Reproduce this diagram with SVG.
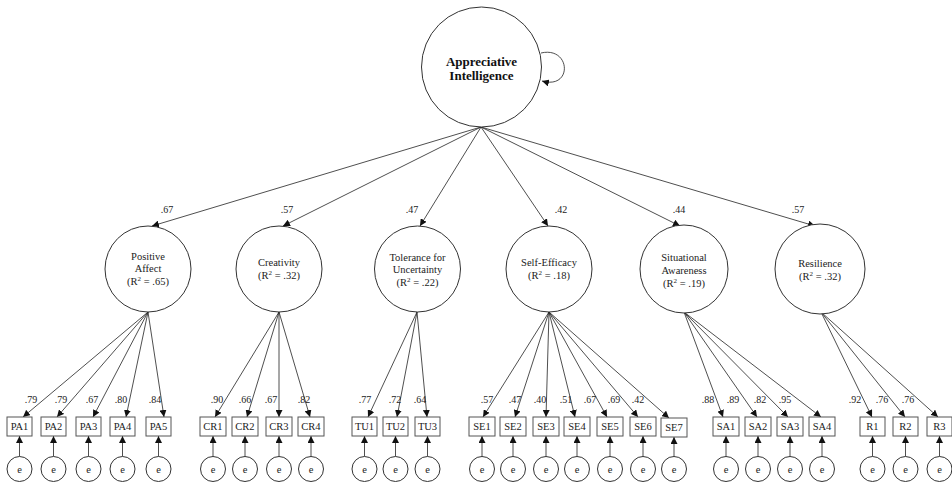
<svg xmlns="http://www.w3.org/2000/svg" width="952" height="483" viewBox="0 0 952 483">
<defs>
<marker id="ah" viewBox="0 0 10 10" refX="10" refY="5" markerWidth="7" markerHeight="7" markerUnits="userSpaceOnUse" orient="auto"><path d="M0,0 L10,5 L0,10 Z" fill="#111"/></marker>
</defs>
<style>
.c{fill:#fff;stroke:#333;stroke-width:1}
.b{fill:#fff;stroke:#555;stroke-width:1}
.l{stroke:#222;stroke-width:0.8;fill:none;marker-end:url(#ah)}
.t{font-family:"Liberation Serif","DejaVu Serif",serif;font-size:10.5px;fill:#222;text-anchor:middle}
.tb{font-family:"Liberation Serif","DejaVu Serif",serif;font-size:13px;font-weight:bold;fill:#111;text-anchor:middle}
.n{font-family:"Liberation Serif","DejaVu Serif",serif;font-size:10px;fill:#222;text-anchor:middle}
</style>
<rect width="952" height="483" fill="#fff"/>
<g id="connectors">
<path class="l" d="M541,53 C571,46 573,90 542,81"/>
<line class="l" x1="481" y1="127" x2="152" y2="226"/>
<line class="l" x1="481" y1="127" x2="283" y2="226"/>
<line class="l" x1="481" y1="127" x2="420" y2="226"/>
<line class="l" x1="481" y1="127" x2="548" y2="226"/>
<line class="l" x1="481" y1="127" x2="680" y2="226"/>
<line class="l" x1="481" y1="127" x2="815" y2="226"/>
<line class="l" x1="148" y1="312" x2="23" y2="417"/>
<line class="l" x1="148" y1="312" x2="57" y2="417"/>
<line class="l" x1="148" y1="312" x2="93" y2="417"/>
<line class="l" x1="148" y1="312" x2="126" y2="417"/>
<line class="l" x1="148" y1="312" x2="164" y2="417"/>
<line class="l" x1="279" y1="312" x2="215" y2="417"/>
<line class="l" x1="279" y1="312" x2="247" y2="417"/>
<line class="l" x1="279" y1="312" x2="279" y2="417"/>
<line class="l" x1="279" y1="312" x2="310" y2="417"/>
<line class="l" x1="417" y1="312" x2="368" y2="417"/>
<line class="l" x1="417" y1="312" x2="397" y2="417"/>
<line class="l" x1="417" y1="312" x2="427" y2="417"/>
<line class="l" x1="549" y1="312" x2="483" y2="417"/>
<line class="l" x1="549" y1="312" x2="515" y2="417"/>
<line class="l" x1="549" y1="312" x2="546" y2="417"/>
<line class="l" x1="549" y1="312" x2="575" y2="417"/>
<line class="l" x1="549" y1="312" x2="607" y2="417"/>
<line class="l" x1="549" y1="312" x2="638" y2="417"/>
<line class="l" x1="549" y1="312" x2="669" y2="418"/>
<line class="l" x1="684" y1="312" x2="723" y2="417"/>
<line class="l" x1="684" y1="312" x2="757" y2="417"/>
<line class="l" x1="684" y1="312" x2="788" y2="417"/>
<line class="l" x1="684" y1="312" x2="821" y2="417"/>
<line class="l" x1="821" y1="312" x2="872" y2="417"/>
<line class="l" x1="821" y1="312" x2="905" y2="417"/>
<line class="l" x1="821" y1="312" x2="938" y2="417"/>
<line class="l" x1="19.5" y1="456.5" x2="19.5" y2="436"/>
<line class="l" x1="53.5" y1="456.5" x2="53.5" y2="436"/>
<line class="l" x1="88.5" y1="456.5" x2="88.5" y2="436"/>
<line class="l" x1="122.5" y1="456.5" x2="122.5" y2="436"/>
<line class="l" x1="158.5" y1="456.5" x2="158.5" y2="436"/>
<line class="l" x1="213" y1="456.5" x2="213" y2="436"/>
<line class="l" x1="245" y1="456.5" x2="245" y2="436"/>
<line class="l" x1="279" y1="456.5" x2="279" y2="436"/>
<line class="l" x1="311" y1="456.5" x2="311" y2="436"/>
<line class="l" x1="364.5" y1="456.5" x2="364.5" y2="436"/>
<line class="l" x1="395.5" y1="456.5" x2="395.5" y2="436"/>
<line class="l" x1="427.5" y1="456.5" x2="427.5" y2="436"/>
<line class="l" x1="482" y1="456.5" x2="482" y2="436"/>
<line class="l" x1="513" y1="456.5" x2="513" y2="436"/>
<line class="l" x1="546" y1="456.5" x2="546" y2="436"/>
<line class="l" x1="577" y1="456.5" x2="577" y2="436"/>
<line class="l" x1="610" y1="456.5" x2="610" y2="436"/>
<line class="l" x1="643" y1="456.5" x2="643" y2="436"/>
<line class="l" x1="674" y1="456.5" x2="674" y2="437"/>
<line class="l" x1="726" y1="456.5" x2="726" y2="436"/>
<line class="l" x1="758" y1="456.5" x2="758" y2="436"/>
<line class="l" x1="790" y1="456.5" x2="790" y2="436"/>
<line class="l" x1="822" y1="456.5" x2="822" y2="436"/>
<line class="l" x1="872.5" y1="456.5" x2="872.5" y2="436"/>
<line class="l" x1="905.5" y1="456.5" x2="905.5" y2="436"/>
<line class="l" x1="939.5" y1="456.5" x2="939.5" y2="436"/>
</g>
<g id="loadings">
<text class="n" x="167" y="213">.67</text>
<text class="n" x="287" y="213">.57</text>
<text class="n" x="412" y="213">.47</text>
<text class="n" x="561" y="213">.42</text>
<text class="n" x="679" y="213">.44</text>
<text class="n" x="798" y="213">.57</text>
<text class="n" x="31" y="403">.79</text>
<text class="n" x="61" y="403">.79</text>
<text class="n" x="92" y="403">.67</text>
<text class="n" x="121" y="403">.80</text>
<text class="n" x="155" y="403">.84</text>
<text class="n" x="217" y="403">.90</text>
<text class="n" x="245" y="403">.66</text>
<text class="n" x="271" y="403">.67</text>
<text class="n" x="304" y="403">.82</text>
<text class="n" x="365" y="403">.77</text>
<text class="n" x="395" y="403">.72</text>
<text class="n" x="420" y="403">.64</text>
<text class="n" x="487" y="403">.57</text>
<text class="n" x="515" y="403">.47</text>
<text class="n" x="540" y="403">.40</text>
<text class="n" x="566" y="403">.51</text>
<text class="n" x="590" y="403">.67</text>
<text class="n" x="614" y="403">.69</text>
<text class="n" x="638" y="403">.42</text>
<text class="n" x="708" y="403">.88</text>
<text class="n" x="733" y="403">.89</text>
<text class="n" x="760" y="403">.82</text>
<text class="n" x="785" y="403">.95</text>
<text class="n" x="855" y="403">.92</text>
<text class="n" x="882" y="403">.76</text>
<text class="n" x="908" y="403">.76</text>
</g>
<g id="AI">
<circle class="c" cx="481.5" cy="67" r="60"/>
<text class="tb" x="481.5" y="66">Appreciative</text>
<text class="tb" x="481.5" y="80">Intelligence</text>
</g>
<g id="PA">
<circle class="c" cx="148" cy="269" r="43"/>
<text class="t" x="148" y="260">Positive</text>
<text class="t" x="148" y="272">Affect</text>
<text class="t" x="148" y="285">(R<tspan font-size="7" dy="-4">2</tspan><tspan dy="4"> = .65)</tspan></text>
</g>
<g id="CR">
<circle class="c" cx="279" cy="269" r="43"/>
<text class="t" x="279" y="266">Creativity</text>
<text class="t" x="279" y="279">(R<tspan font-size="7" dy="-4">2</tspan><tspan dy="4"> = .32)</tspan></text>
</g>
<g id="TU">
<circle class="c" cx="417.5" cy="269" r="43"/>
<text class="t" x="417.5" y="261">Tolerance for</text>
<text class="t" x="417.5" y="273">Uncertainty</text>
<text class="t" x="417.5" y="286">(R<tspan font-size="7" dy="-4">2</tspan><tspan dy="4"> = .22)</tspan></text>
</g>
<g id="SE">
<circle class="c" cx="549" cy="269" r="43"/>
<text class="t" x="549" y="266">Self-Efficacy</text>
<text class="t" x="549" y="279">(R<tspan font-size="7" dy="-4">2</tspan><tspan dy="4"> = .18)</tspan></text>
</g>
<g id="SA">
<circle class="c" cx="684" cy="269" r="44"/>
<text class="t" x="684" y="261">Situational</text>
<text class="t" x="684" y="274">Awareness</text>
<text class="t" x="684" y="287">(R<tspan font-size="7" dy="-4">2</tspan><tspan dy="4"> = .19)</tspan></text>
</g>
<g id="R">
<circle class="c" cx="820" cy="269" r="45"/>
<text class="t" x="820" y="267">Resilience</text>
<text class="t" x="820" y="280">(R<tspan font-size="7" dy="-4">2</tspan><tspan dy="4"> = .32)</tspan></text>
</g>
<g id="indicators">
<g id="PA1"><rect class="b" x="7" y="417" width="25" height="19"/><text class="t" x="19.5" y="430">PA1</text></g>
<g id="PA2"><rect class="b" x="41" y="417" width="25" height="19"/><text class="t" x="53.5" y="430">PA2</text></g>
<g id="PA3"><rect class="b" x="76" y="417" width="25" height="19"/><text class="t" x="88.5" y="430">PA3</text></g>
<g id="PA4"><rect class="b" x="110" y="417" width="25" height="19"/><text class="t" x="122.5" y="430">PA4</text></g>
<g id="PA5"><rect class="b" x="146" y="417" width="25" height="19"/><text class="t" x="158.5" y="430">PA5</text></g>
<g id="CR1"><rect class="b" x="200" y="417" width="26" height="19"/><text class="t" x="213" y="430">CR1</text></g>
<g id="CR2"><rect class="b" x="232" y="417" width="26" height="19"/><text class="t" x="245" y="430">CR2</text></g>
<g id="CR3"><rect class="b" x="266" y="417" width="26" height="19"/><text class="t" x="279" y="430">CR3</text></g>
<g id="CR4"><rect class="b" x="298" y="417" width="26" height="19"/><text class="t" x="311" y="430">CR4</text></g>
<g id="TU1"><rect class="b" x="352" y="417" width="25" height="19"/><text class="t" x="364.5" y="430">TU1</text></g>
<g id="TU2"><rect class="b" x="383" y="417" width="25" height="19"/><text class="t" x="395.5" y="430">TU2</text></g>
<g id="TU3"><rect class="b" x="415" y="417" width="25" height="19"/><text class="t" x="427.5" y="430">TU3</text></g>
<g id="SE1"><rect class="b" x="469" y="417" width="26" height="19"/><text class="t" x="482" y="430">SE1</text></g>
<g id="SE2"><rect class="b" x="500" y="417" width="26" height="19"/><text class="t" x="513" y="430">SE2</text></g>
<g id="SE3"><rect class="b" x="533" y="417" width="26" height="19"/><text class="t" x="546" y="430">SE3</text></g>
<g id="SE4"><rect class="b" x="564" y="417" width="26" height="19"/><text class="t" x="577" y="430">SE4</text></g>
<g id="SE5"><rect class="b" x="597" y="417" width="26" height="19"/><text class="t" x="610" y="430">SE5</text></g>
<g id="SE6"><rect class="b" x="630" y="417" width="26" height="19"/><text class="t" x="643" y="430">SE6</text></g>
<g id="SE7"><rect class="b" x="661" y="418" width="26" height="19"/><text class="t" x="674" y="431">SE7</text></g>
<g id="SA1"><rect class="b" x="713" y="417" width="26" height="19"/><text class="t" x="726" y="430">SA1</text></g>
<g id="SA2"><rect class="b" x="745" y="417" width="26" height="19"/><text class="t" x="758" y="430">SA2</text></g>
<g id="SA3"><rect class="b" x="777" y="417" width="26" height="19"/><text class="t" x="790" y="430">SA3</text></g>
<g id="SA4"><rect class="b" x="809" y="417" width="26" height="19"/><text class="t" x="822" y="430">SA4</text></g>
<g id="R1"><rect class="b" x="860" y="417" width="25" height="19"/><text class="t" x="872.5" y="430">R1</text></g>
<g id="R2"><rect class="b" x="893" y="417" width="25" height="19"/><text class="t" x="905.5" y="430">R2</text></g>
<g id="R3"><rect class="b" x="927" y="417" width="25" height="19"/><text class="t" x="939.5" y="430">R3</text></g>
</g>
<g id="errors">
<g><circle class="c" cx="19.5" cy="469" r="12.5"/><text class="t" x="19.5" y="472.5">e</text></g>
<g><circle class="c" cx="53.5" cy="469" r="12.5"/><text class="t" x="53.5" y="472.5">e</text></g>
<g><circle class="c" cx="88.5" cy="469" r="12.5"/><text class="t" x="88.5" y="472.5">e</text></g>
<g><circle class="c" cx="122.5" cy="469" r="12.5"/><text class="t" x="122.5" y="472.5">e</text></g>
<g><circle class="c" cx="158.5" cy="469" r="12.5"/><text class="t" x="158.5" y="472.5">e</text></g>
<g><circle class="c" cx="213" cy="469" r="12.5"/><text class="t" x="213" y="472.5">e</text></g>
<g><circle class="c" cx="245" cy="469" r="12.5"/><text class="t" x="245" y="472.5">e</text></g>
<g><circle class="c" cx="279" cy="469" r="12.5"/><text class="t" x="279" y="472.5">e</text></g>
<g><circle class="c" cx="311" cy="469" r="12.5"/><text class="t" x="311" y="472.5">e</text></g>
<g><circle class="c" cx="364.5" cy="469" r="12.5"/><text class="t" x="364.5" y="472.5">e</text></g>
<g><circle class="c" cx="395.5" cy="469" r="12.5"/><text class="t" x="395.5" y="472.5">e</text></g>
<g><circle class="c" cx="427.5" cy="469" r="12.5"/><text class="t" x="427.5" y="472.5">e</text></g>
<g><circle class="c" cx="482" cy="469" r="12.5"/><text class="t" x="482" y="472.5">e</text></g>
<g><circle class="c" cx="513" cy="469" r="12.5"/><text class="t" x="513" y="472.5">e</text></g>
<g><circle class="c" cx="546" cy="469" r="12.5"/><text class="t" x="546" y="472.5">e</text></g>
<g><circle class="c" cx="577" cy="469" r="12.5"/><text class="t" x="577" y="472.5">e</text></g>
<g><circle class="c" cx="610" cy="469" r="12.5"/><text class="t" x="610" y="472.5">e</text></g>
<g><circle class="c" cx="643" cy="469" r="12.5"/><text class="t" x="643" y="472.5">e</text></g>
<g><circle class="c" cx="674" cy="469" r="12.5"/><text class="t" x="674" y="472.5">e</text></g>
<g><circle class="c" cx="726" cy="469" r="12.5"/><text class="t" x="726" y="472.5">e</text></g>
<g><circle class="c" cx="758" cy="469" r="12.5"/><text class="t" x="758" y="472.5">e</text></g>
<g><circle class="c" cx="790" cy="469" r="12.5"/><text class="t" x="790" y="472.5">e</text></g>
<g><circle class="c" cx="822" cy="469" r="12.5"/><text class="t" x="822" y="472.5">e</text></g>
<g><circle class="c" cx="872.5" cy="469" r="12.5"/><text class="t" x="872.5" y="472.5">e</text></g>
<g><circle class="c" cx="905.5" cy="469" r="12.5"/><text class="t" x="905.5" y="472.5">e</text></g>
<g><circle class="c" cx="939.5" cy="469" r="12.5"/><text class="t" x="939.5" y="472.5">e</text></g>
</g>
</svg>
